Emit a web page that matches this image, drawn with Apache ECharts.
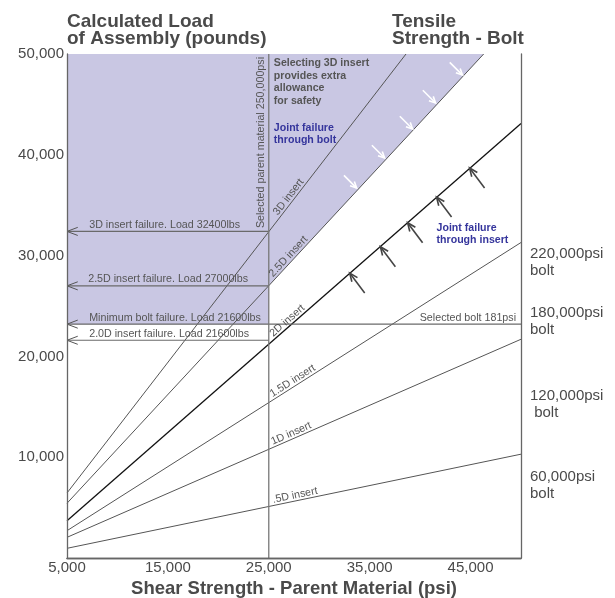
<!DOCTYPE html>
<html><head><meta charset="utf-8">
<script src="https://cdn.jsdelivr.net/npm/echarts@6/dist/echarts.min.js"></script>
<style>html,body{margin:0;padding:0;background:#fff}#c{width:615px;height:598px}</style>
</head><body><div id="c"></div>
<script>
const FONT = '"Liberation Sans", Arial, Helvetica, sans-serif';

// axes
const xAxisMin = 5000, xAxisMax = 50000, xAxisStep = 10000;
const yAxisMin = 0, yAxisMax = 50000, yAxisStep = 10000;

// insert lines: load (lbs) vs parent shear strength (psi)
const insertNames = ['3D insert', '2.5D insert', '2D insert', '1.5D insert', '1D insert', '.5D insert'];
const insertStartX = [5000, 5000, 5000, 5000, 5000, 5000];
const insertStartLoad = [6450, 5430, 3700, 2710, 2050, 960];
const insertEndX = [38600, 46300, 50000, 50000, 50000, 50000];
const insertEndLoad = [50000, 50000, 43100, 31300, 21700, 10300];
const insertLabelX = [26100, 25600, 25600, 25500, 25500, 25500];

// failure levels
const failureText = ['3D insert failure. Load 32400lbs', '2.5D insert failure. Load 27000lbs',
  'Minimum bolt failure. Load 21600lbs', '2.0D insert failure. Load 21600lbs'];
const failureLoad = [32400, 27000, 23200, 21600];
const failureEndX = [25000, 25000, 50000, 25000];
const failureTextX = [7200, 7100, 7200, 7200];
const selectedBoltText = 'Selected bolt 181psi';
const selectedParentShear = 25000;
const selectedParentText = 'Selected parent material 250,000psi';

// shaded safety region (polygon)
const safeZoneX = [5000, 46300, 25000, 25000, 5000];
const safeZoneLoad = [50000, 50000, 27000, 23200, 23200];

// arrows (tip positions)
const boltArrowX = [44200, 41530, 39250, 36480, 33710];
const boltArrowLoad = [47910, 45140, 42560, 39680, 36700];
const insertArrowX = [33020, 36060, 38760, 41630, 44900];
const insertArrowLoad = [28270, 30880, 33260, 35810, 38690];

// bolt grade labels at right
const boltGradeText = ['220,000psi\nbolt', '180,000psi\nbolt', '120,000psi\n bolt', '60,000psi\nbolt'];
const boltGradeLoad = [29300, 23450, 15250, 7220];

// notes
const noteText = ['Selecting 3D insert\nprovides extra\nallowance\nfor safety', 'Joint failure\nthrough bolt', 'Joint failure\nthrough insert'];
const noteX = [25500, 25500, 41630];
const noteLoad = [49740, 43250, 33330];
const noteColor = ['#555555', '#35359c', '#35359c'];

const fmt = v => v.toLocaleString('en-US');
const chart = echarts.init(document.getElementById('c'));

function arrow(tip, dx, dy, len, head, spread, color, width) {
  const tail = [tip[0] - dx * len, tip[1] - dy * len];
  const ang = Math.atan2(dy, dx);
  const h1 = [tip[0] + Math.cos(ang + Math.PI - spread) * head, tip[1] + Math.sin(ang + Math.PI - spread) * head];
  const h2 = [tip[0] + Math.cos(ang + Math.PI + spread) * head, tip[1] + Math.sin(ang + Math.PI + spread) * head];
  const ch = [{ type: 'polyline', shape: { points: [h1, tip, h2] }, style: { stroke: color, lineWidth: width, fill: null } }];
  if (len > 0) ch.push({ type: 'polyline', shape: { points: [tail, tip] }, style: { stroke: color, lineWidth: width, fill: null } });
  return { type: 'group', children: ch };
}

const series = [];

// shaded zone
series.push({
  type: 'custom', z: 1, silent: true,
  data: safeZoneX.map((x, i) => [x, safeZoneLoad[i]]),
  renderItem: (params, api) => {
    if (params.dataIndex !== 0) return null;
    const pts = safeZoneX.map((x, i) => api.coord([x, safeZoneLoad[i]]));
    return { type: 'polygon', shape: { points: pts }, style: { fill: '#c9c7e3' } };
  }
});

// insert lines
insertNames.forEach((n, i) => {
  series.push({
    type: 'line', name: n, z: 3, showSymbol: false, silent: true,
    data: [[insertStartX[i], insertStartLoad[i]], [insertEndX[i], insertEndLoad[i]]],
    lineStyle: { color: i === 2 ? '#111' : '#555', width: i === 2 ? 1.3 : 1 }
  });
});

// failure level lines
failureLoad.forEach((v, i) => {
  series.push({
    type: 'line', z: 3, showSymbol: false, silent: true,
    data: [[xAxisMin, v], [failureEndX[i], v]],
    lineStyle: { color: '#6a6a6a', width: 1.1 }
  });
});

// selected parent material vertical line
series.push({
  type: 'line', z: 3, showSymbol: false, silent: true,
  data: [[selectedParentShear, yAxisMin], [selectedParentShear, yAxisMax]],
  lineStyle: { color: '#777', width: 1.3 }
});

// insert line labels
series.push({
  type: 'custom', z: 5, silent: true,
  data: insertNames.map((n, i) => [insertLabelX[i], insertStartLoad[i], i]),
  renderItem: (params, api) => {
    const i = api.value(2);
    const p0 = api.coord([insertStartX[i], insertStartLoad[i]]);
    const p1 = api.coord([insertEndX[i], insertEndLoad[i]]);
    const px = api.coord([insertLabelX[i], 0])[0];
    const t = (px - p0[0]) / (p1[0] - p0[0]);
    const py = p0[1] + t * (p1[1] - p0[1]);
    const rot = Math.atan2(p0[1] - p1[1], p1[0] - p0[0]);
    return { type: 'text', x: px, y: py, rotation: rot,
      style: { text: insertNames[i], fill: '#555', font: '10.7px ' + FONT, align: 'left', verticalAlign: 'bottom' } };
  }
});

// failure labels + left arrowheads
series.push({
  type: 'custom', z: 5, silent: true,
  data: failureLoad.map((v, i) => [failureTextX[i], v, i]),
  renderItem: (params, api) => {
    const i = api.value(2);
    const p = api.coord([failureTextX[i], failureLoad[i]]);
    const tip = api.coord([xAxisMin, failureLoad[i]]);
    return { type: 'group', children: [
      { type: 'text', x: p[0], y: p[1] - 1, style: { text: failureText[i], fill: '#555', font: '10.7px ' + FONT, align: 'left', verticalAlign: 'bottom' } },
      arrow(tip, -1, 0, 0, 11.5, 0.36, '#555', 1)
    ] };
  }
});

// selected bolt + selected parent labels
series.push({
  type: 'custom', z: 5, silent: true,
  data: [[xAxisMax, failureLoad[2]]],
  renderItem: (params, api) => {
    const p = api.coord([xAxisMax, failureLoad[2]]);
    const q = api.coord([selectedParentShear, yAxisMax]);
    return { type: 'group', children: [
      { type: 'text', x: p[0] - 5, y: p[1] - 1, style: { text: selectedBoltText, fill: '#555', font: '10.7px ' + FONT, align: 'right', verticalAlign: 'bottom' } },
      { type: 'text', x: q[0] - 2, y: q[1] + 3, rotation: Math.PI / 2, style: { text: selectedParentText, fill: '#555', font: '10.7px ' + FONT, align: 'right', verticalAlign: 'bottom' } }
    ] };
  }
});

// white arrows (joint failure through bolt)
series.push({
  type: 'custom', z: 6, silent: true,
  data: boltArrowX.map((x, i) => [x, boltArrowLoad[i]]),
  renderItem: (params, api) => arrow(api.coord([api.value(0), api.value(1)]), 0.707, 0.707, 18, 7, 0.45, '#ffffff', 1.6)
});
// dark arrows (joint failure through insert)
series.push({
  type: 'custom', z: 6, silent: true,
  data: insertArrowX.map((x, i) => [x, insertArrowLoad[i]]),
  renderItem: (params, api) => arrow(api.coord([api.value(0), api.value(1)]), -0.6, -0.8, 25, 9, 0.4, '#444', 1.6)
});

// notes
series.push({
  type: 'custom', z: 6, silent: true,
  data: noteX.map((x, i) => [x, noteLoad[i], i]),
  renderItem: (params, api) => {
    const i = api.value(2);
    const p = api.coord([noteX[i], noteLoad[i]]);
    return { type: 'text', x: p[0], y: p[1],
      style: { text: noteText[i], fill: noteColor[i], font: 'bold 10.6px ' + FONT, lineHeight: i === 0 ? 12.7 : 12.3, align: 'left', verticalAlign: 'top' } };
  }
});

// bolt grade labels (right side)
series.push({
  type: 'custom', z: 6, silent: true, clip: false,
  data: boltGradeLoad.map((v, i) => [xAxisMax, v, i]),
  renderItem: (params, api) => {
    const i = api.value(2);
    const p = api.coord([xAxisMax, boltGradeLoad[i]]);
    return { type: 'text', x: p[0] + 9, y: p[1],
      style: { text: boltGradeText[i], fill: '#4a4a4a', font: '15px ' + FONT, lineHeight: 17, align: 'left', verticalAlign: 'middle' } };
  }
});

const axisLineStyle = { lineStyle: { color: '#666', width: 1.3 } };
chart.setOption({
  animation: false,
  textStyle: { fontFamily: FONT },
  title: [
    { text: 'Calculated Load\nof Assembly (pounds)', left: 67, top: 13, padding: 0,
      textStyle: { fontSize: 19, fontWeight: 'bold', color: '#4a4a4a', lineHeight: 17, fontFamily: FONT } },
    { text: 'Tensile\nStrength - Bolt', left: 392, top: 13, padding: 0,
      textStyle: { fontSize: 19, fontWeight: 'bold', color: '#4a4a4a', lineHeight: 17, fontFamily: FONT } }
  ],
  grid: { left: 67, top: 54, right: 94, bottom: 40, outerBoundsMode: 'none', containLabel: false },
  xAxis: [
    { type: 'value', min: xAxisMin, max: xAxisMax, interval: xAxisStep, z: 10,
      axisLine: axisLineStyle, axisTick: { show: false }, splitLine: { show: false },
      axisLabel: { showMaxLabel: false, fontSize: 15, color: '#4a4a4a', margin: 2, formatter: fmt },
      name: 'Shear Strength - Parent Material (psi)', nameLocation: 'middle', nameGap: 15,
      nameTextStyle: { fontSize: 18.5, fontWeight: 'bold', color: '#4a4a4a', fontFamily: FONT } },
    { type: 'value', position: 'top', min: xAxisMin, max: xAxisMax, z: 10,
      axisLine: { show: true, ...axisLineStyle }, axisTick: { show: false }, axisLabel: { show: false }, splitLine: { show: false } }
  ],
  yAxis: [
    { type: 'value', min: yAxisMin, max: yAxisMax, interval: yAxisStep, z: 10,
      axisLine: { show: true, ...axisLineStyle }, axisTick: { show: false }, splitLine: { show: false },
      axisLabel: { showMinLabel: false, fontSize: 15, color: '#4a4a4a', margin: 3, formatter: fmt } },
    { type: 'value', position: 'right', min: yAxisMin, max: yAxisMax, z: 10,
      axisLine: { show: true, ...axisLineStyle }, axisTick: { show: false }, axisLabel: { show: false }, splitLine: { show: false } }
  ],
  series: series
});
</script></body></html>
